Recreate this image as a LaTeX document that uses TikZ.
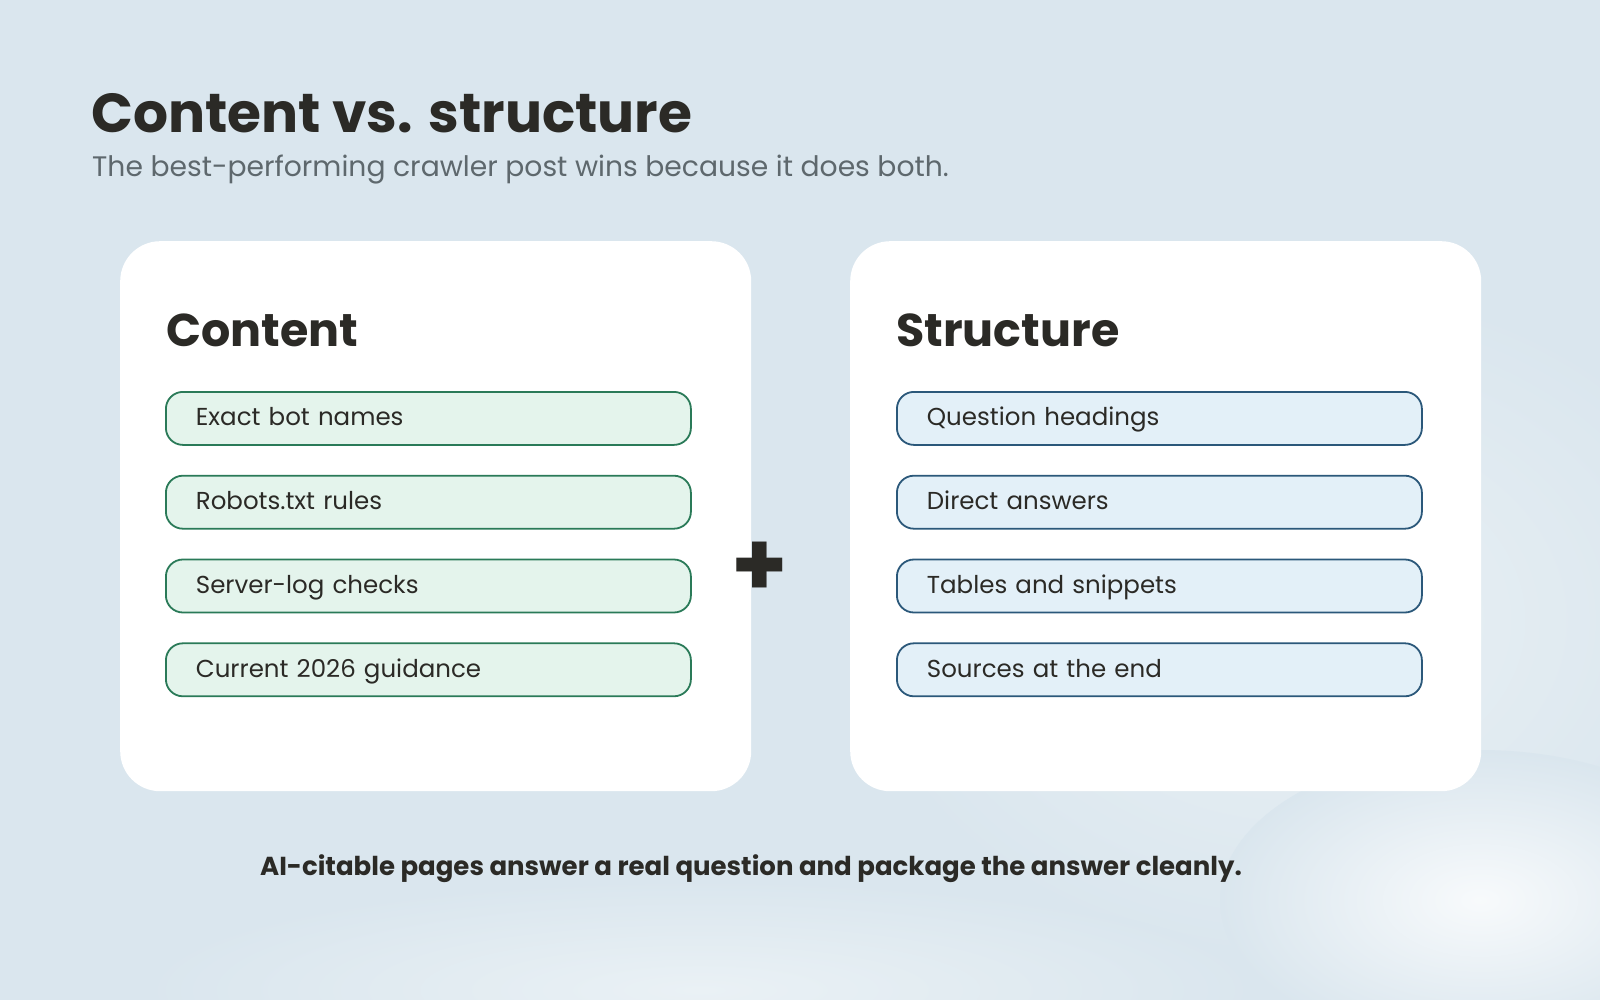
\documentclass[tikz,border=0pt]{standalone}
\usepackage{fontspec}
\setmainfont{Poppins}
\usetikzlibrary{positioning,calc}
\definecolor{bgBlue}{HTML}{DAE6EE}
\definecolor{bgLight}{HTML}{EAF1F5}
\definecolor{inkDark}{HTML}{2B2A26}
\definecolor{inkGray}{HTML}{5E686D}
\definecolor{contFill}{HTML}{E4F4EC}
\definecolor{contStroke}{HTML}{2A7A58}
\definecolor{strucFill}{HTML}{E3F0F8}
\definecolor{strucStroke}{HTML}{2B587A}

\begin{document}
\begin{tikzpicture}[
  x=1pt, y=-1pt,
  card/.style ={fill=white, rounded corners=40pt, minimum width=631pt, minimum height=550pt, anchor=north west},
  pill/.style ={rounded corners=17pt, line width=1.8pt, minimum width=525pt, minimum height=53pt, text width=465pt, inner xsep=30pt, text height=18pt, text depth=3pt, align=left, anchor=north west, font=\fontsize{24.5}{28}\selectfont, text=inkDark},
  pillC/.style={pill, draw=contStroke, fill=contFill},
  pillS/.style={pill, draw=strucStroke, fill=strucFill},
  head/.style ={anchor=base west, inner sep=0pt, font=\fontsize{46}{52}\selectfont\bfseries, text=inkDark},
]

% ==================== background ====================
\clip (0,0) rectangle (1600,1000);
\fill[bgBlue] (0,0) rectangle (1600,1000);
\shade[inner color=bgLight, outer color=bgBlue] (1300,620) ellipse (450 and 340);
\shade[inner color=white!80!bgBlue, outer color=bgBlue] (1480,900) ellipse (260 and 150);
\shade[inner color=bgLight, outer color=bgBlue] (700,990) ellipse (560 and 110);

% ==================== titles ====================
\node[anchor=base west, inner sep=0pt, font=\fontsize{55}{62}\selectfont\bfseries, text=inkDark] (title) at (91,133) {Content vs. structure};
\node[anchor=base west, inner sep=0pt, font=\fontsize{28.2}{34}\selectfont, text=inkGray] (sub) at (92,177) {The best-performing crawler post wins because it does both.};

% ==================== cards ====================
\node[card] (left) at (120,241) {};
\node[card] (right) at (850,241) {};

\node[head] (hC) at (166,346) {Content};
\node[head] (hS) at (896,346) {Structure};

% Content items
\node[pillC] (c1) at (165,391) {Exact bot names};
\node[pillC, below=29pt of c1.south west, anchor=north west] (c2) {Robots.txt rules};
\node[pillC, below=29pt of c2.south west, anchor=north west] (c3) {Server-log checks};
\node[pillC, below=29pt of c3.south west, anchor=north west] (c4) {Current 2026 guidance};

% Structure items
\node[pillS] (s1) at (896,391) {Question headings};
\node[pillS, below=29pt of s1.south west, anchor=north west] (s2) {Direct answers};
\node[pillS, below=29pt of s2.south west, anchor=north west] (s3) {Tables and snippets};
\node[pillS, below=29pt of s3.south west, anchor=north west] (s4) {Sources at the end};

% plus between the cards
\node[font=\fontsize{90}{90}\selectfont\bfseries, text=inkDark, inner sep=0pt] (plus) at (760,569) {+};

% ==================== bottom line ====================
\node[font=\fontsize{26}{30}\selectfont\bfseries, text=inkDark, inner sep=0pt] (foot) at (751,869) {AI-citable pages answer a real question and package the answer cleanly.};

\end{tikzpicture}
\end{document}
